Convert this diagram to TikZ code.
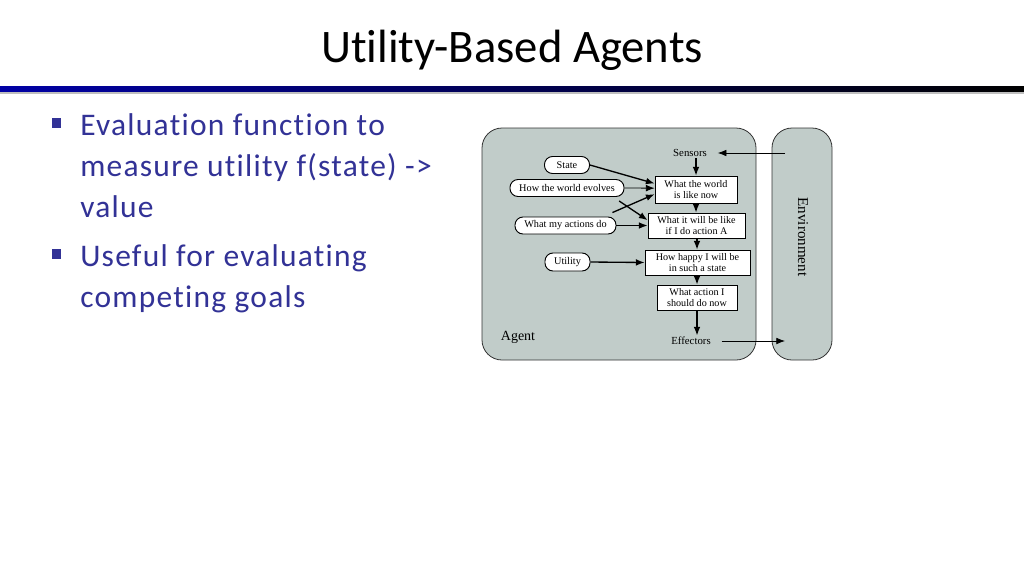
\documentclass[tikz,border=0pt]{standalone}
\usepackage{fontspec}
\setmainfont[Ligatures=NoCommon]{Carlito}
\newfontfamily\bodyfont[LetterSpace=4,Ligatures=NoCommon]{Carlito}
\newfontfamily\tnr{Liberation Serif}
\usetikzlibrary{arrows.meta}
\definecolor{bodyblue}{RGB}{50,50,150}
\definecolor{agentfill}{RGB}{193,204,201}
\definecolor{barblue}{RGB}{0,0,165}
\tikzset{
  oval/.style={draw=black, line width=0.7pt, fill=white, rounded corners=6pt, inner sep=0pt, font=\tnr\fontsize{7.7}{8}\selectfont},
  procbox/.style={draw=black, line width=0.6pt, fill=white, inner sep=0pt, align=center, font=\tnr\fontsize{7.6}{7.6}\selectfont},
  lbl/.style={font=\tnr\fontsize{8.1}{9}\selectfont, inner sep=1pt},
  flow/.style={line width=1pt, -{Latex[length=6.5pt,width=5pt]}},
  thin flow/.style={line width=0.6pt, -{Latex[length=6.5pt,width=5pt]}},
  panel/.style={draw=black!80, line width=0.6pt, fill=agentfill, rounded corners=15pt},
  bullettext/.style={anchor=base west, align=left, inner sep=0pt, text=bodyblue, font=\bodyfont\fontsize{23.6}{30.75}\selectfont},
  bulletmark/.style={fill=bodyblue, minimum size=7.2pt, inner sep=0pt}
}
\begin{document}
\begin{tikzpicture}[x=0.75pt, y=-0.75pt]
\useasboundingbox (0,0) rectangle (1024,576);
\fill[white] (0,0) rectangle (1024,576);
% title
\node[anchor=base, inner sep=0pt, font=\fontsize{35}{42}\selectfont] (title) at (512,62) {Utility-Based Agents};
\shade[left color=barblue, middle color={rgb,255:red,0;green,0;blue,120}, right color=black] (0,86) rectangle (1024,92);
\fill[black!25] (0,92) rectangle (1024,93.5);
% bullets (anchored at the baseline of the last line)
\node[bulletmark] (b1) at (56.5,123) {};
\node[bullettext] (t1) at (80,217) {Evaluation function to\\measure utility f(state) ->\\value};
\node[bulletmark] (b2) at (56.5,254) {};
\node[bullettext] (t2) at (80,307) {Useful for evaluating\\competing goals};
% panels
\draw[panel] (482,128) rectangle (756,360);
\draw[panel] (772,128) rectangle (832,360);
\node[lbl, font=\tnr\fontsize{10.5}{12}\selectfont] (agent) at (518,337) {Agent};
\node[lbl, rotate=-90, font=\tnr\fontsize{11.3}{12}\selectfont] (env) at (803,237) {Environment};
% labels
\node[lbl] (sensors) at (690,153) {Sensors};
\node[lbl] (effectors) at (691,341) {Effectors};
% ovals
\node[oval, minimum width=33.75pt, minimum height=12.75pt] (state) at (567,165) {State};
\node[oval, minimum width=85.5pt, minimum height=12.75pt] (evolves) at (567,188) {How the world evolves};
\node[oval, minimum width=75.75pt, minimum height=12.75pt] (actions) at (565.5,225.5) {What my actions do};
\node[oval, minimum width=33.75pt, minimum height=13.5pt] (utility) at (567.5,262) {Utility};
% boxes
\node[procbox, minimum width=61.5pt, minimum height=20.25pt] (B1) at (696,189.5) {What the world\\is like now};
\node[procbox, minimum width=72.75pt, minimum height=18.75pt] (B2) at (696.5,225.5) {What it will be like\\if I do action A};
\node[procbox, minimum width=78.75pt, minimum height=18.75pt] (B3) at (697.5,262.5) {How happy I will be\\in such a state};
\node[procbox, minimum width=60pt, minimum height=18.75pt] (B4) at (697,297.5) {What action I\\should do now};
% coordinates on environment
\coordinate (envin) at (785,153);
\coordinate (envout) at (785,341);
% connectors
\draw[thin flow, shorten >=7pt] (envin) -- (sensors.east);
\draw[flow] (sensors.south -| B1.north) -- (B1.north);
\draw[flow] (B1.south -| 696,0) -- (B2.north -| 696,0);
\draw[flow] (B2.south -| 697,0) -- (B3.north -| 697,0);
\draw[flow] (B3.south -| 697,0) -- (B4.north -| 697,0);
\draw[flow] (B4.south) -- (effectors.north -| B4.south);
\draw[thin flow, shorten <=7pt] (effectors.east) -- (envout);
\draw[flow] (state.east) -- ([yshift=4.5pt]B1.west);
\draw[thin flow] (evolves.east) -- ([yshift=1pt]B1.west);
\draw[flow] ([xshift=-4pt,yshift=-3pt]evolves.south east) -- ([yshift=4pt]B2.west);
\draw[flow] ([xshift=-3pt,yshift=3pt]actions.north east) -- ([yshift=-3.5pt]B1.west);
\draw[flow] (actions.east) -- (B2.west);
\draw[flow] (utility.east) -- (B3.west);
\end{tikzpicture}
\end{document}
